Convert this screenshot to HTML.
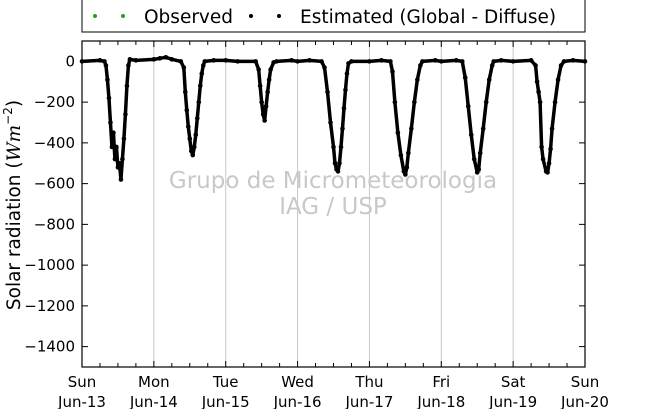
<!DOCTYPE html>
<html><head><meta charset="utf-8"><style>
body{margin:0;background:#fff;}
svg text{font-family:"DejaVu Sans","Liberation Sans",sans-serif;}
</style></head><body>
<svg id="chart" width="650" height="409" viewBox="0 0 650 409" xmlns="http://www.w3.org/2000/svg">
<rect x="82" y="-2" width="503" height="34" fill="#fff" stroke="#000" stroke-width="1"/>
<g>
<circle cx="95" cy="16" r="2" fill="#2a9a2a"/><circle cx="123" cy="16" r="2" fill="#2a9a2a"/>
<text x="144" y="23" font-size="18.5">Observed</text></g>
<g>
<circle cx="251" cy="16" r="2" fill="#000"/><circle cx="279" cy="16" r="2" fill="#000"/>
<text x="300" y="23" font-size="18.5">Estimated (Global - Diffuse)</text></g>
<g id="grid"></g>
<g id="wm">
<text x="333" y="188" font-size="23" fill="#c8c8c8" text-anchor="middle">Grupo de Micrometeorologia</text>
<text x="333" y="214" font-size="23" fill="#c8c8c8" text-anchor="middle">IAG / USP</text></g>
<g id="series"></g>
<rect x="82" y="41" width="503" height="326" fill="none" stroke="#000" stroke-width="1.2"/>
<g id="axes"></g>
<text transform="translate(20,205) rotate(-90)" font-size="18.5" text-anchor="middle">Solar radiation (<tspan font-style="italic" font-family="DejaVu Serif,serif">Wm</tspan><tspan font-size="12" dy="-8">−2</tspan><tspan dy="8">)</tspan></text>
</svg>
<script>
const dayNames=["Sun","Mon","Tue","Wed","Thu","Fri","Sat","Sun"];
const dayDates=["Jun-13","Jun-14","Jun-15","Jun-16","Jun-17","Jun-18","Jun-19","Jun-20"];
const yTicks=[0,-200,-400,-600,-800,-1000,-1200,-1400];
const hours=[0,6,7.5,8,8.5,9,9.5,10,10.5,11,11.5,12,12.5,13,13.5,14,14.5,15,15.5,16,18,
24,26,28,30,33,34,34.5,35,35.5,36,36.5,37,37.5,38,38.5,39,39.5,40,40.5,41,44,
48,52,58,59,59.5,60,60.5,61,61.5,62,62.5,63,64,65,70,
72,76,80,81,82,83,84,84.5,85,85.5,86,86.5,87,87.5,88,88.5,89,90,
96,100,103,103.7,104.5,105.5,106.5,107.5,108,108.5,109,110,111,112,113,113.7,118,
120,125,127,128,129,130,131,132,132.5,133,134,135,136,137,137.5,140,
144,150,151.5,152,152.5,153,153.5,154,155,155.5,156,156.5,157,158,159,160,161,164,168];
const values=[0,5,0,-20,-90,-180,-300,-420,-350,-480,-420,-520,-500,-580,-480,-380,-260,-120,-20,10,5,
10,15,20,10,0,-30,-150,-240,-320,-380,-440,-460,-420,-360,-280,-200,-120,-60,-20,0,5,
5,0,0,-40,-120,-200,-260,-290,-220,-150,-90,-40,-5,0,5,
0,5,0,-30,-150,-300,-420,-500,-530,-540,-500,-420,-330,-230,-140,-60,-10,0,
0,5,0,-50,-200,-350,-460,-540,-555,-520,-450,-330,-200,-90,-20,0,5,
0,5,0,-80,-220,-360,-480,-545,-530,-450,-330,-200,-90,-20,0,5,
0,5,-20,-100,-150,-200,-420,-480,-540,-545,-500,-430,-330,-200,-90,-20,0,5,0];
const X0=82,X1=585,Y0=41,Y1=367,XMAX=168,YMIN=-1500,YMAX=100;
const xs=h=>X0+(h/XMAX)*(X1-X0);
const ys=v=>Y1-(v-YMIN)/(YMAX-YMIN)*(Y1-Y0);
const NS="http://www.w3.org/2000/svg";
function mk(t,a,p){const e=document.createElementNS(NS,t);for(const k in a)e.setAttribute(k,a[k]);p.appendChild(e);return e;}
const grid=document.getElementById('grid'),axes=document.getElementById('axes'),ser=document.getElementById('series');
for(let d=1;d<7;d++){const l=mk('line',{x1:xs(d*24),x2:xs(d*24),y1:Y0,y2:Y1,stroke:'#c8c8c8','stroke-width':1},grid);

}
for(let h=0;h<=XMAX;h+=6){const len=(h%24===0)?6:4;
mk('line',{x1:xs(h),x2:xs(h),y1:Y0,y2:Y0+len,stroke:'#000'},axes);
mk('line',{x1:xs(h),x2:xs(h),y1:Y1,y2:Y1-len,stroke:'#000'},axes);}
dayNames.forEach((n,i)=>{const t=mk('text',{x:xs(i*24),y:387,'font-size':15,'text-anchor':'middle'},axes);


t.innerHTML=n+'<tspan x="'+xs(i*24)+'" dy="20">'+dayDates[i]+'</tspan>';});
yTicks.forEach(v=>{mk('line',{x1:X0,x2:X0+6,y1:ys(v),y2:ys(v),stroke:'#000'},axes);
mk('line',{x1:X1,x2:X1-6,y1:ys(v),y2:ys(v),stroke:'#000'},axes);
const t=mk('text',{x:75,y:ys(v)+5,'font-size':15,'text-anchor':'end'},axes);


t.textContent=String(v).replace('-','\u2212');});
const pl=mk('polyline',{points:hours.map((h,i)=>xs(h)+','+ys(values[i])).join(' '),fill:'none',stroke:'#000','stroke-width':3.5,'stroke-linejoin':'round'},ser);


hours.forEach((h,i)=>{const c=mk('circle',{cx:xs(h),cy:ys(values[i]),r:2.3,fill:'#000'},ser);

});
</script>
</body></html>
